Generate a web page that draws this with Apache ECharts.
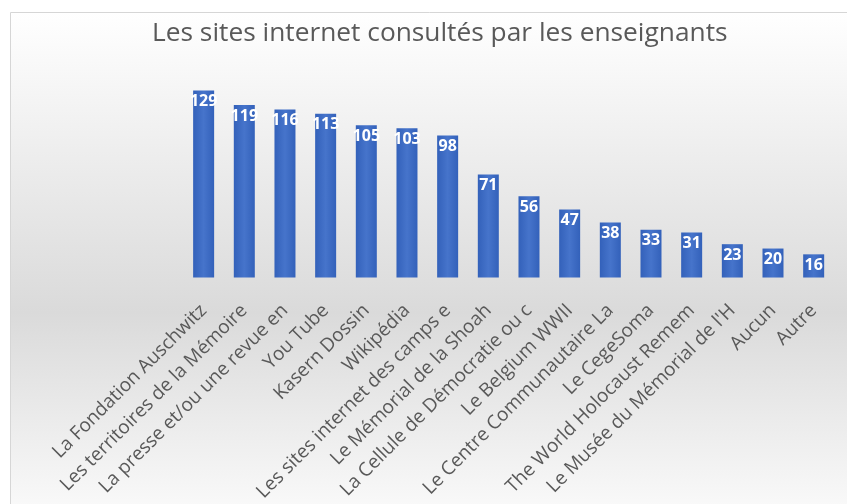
<!DOCTYPE html>
<html>
<head>
<meta charset="utf-8">
<script src="https://cdn.jsdelivr.net/npm/echarts@6/dist/echarts.min.js"></script>
<style>
html,body{margin:0;padding:0;background:#fff;}
#chart{width:847px;height:504px;}
</style>
</head>
<body>
<div id="chart"></div>
<script>
const titleText = "Les sites internet consultés par les enseignants";
const categories = [
  "La Fondation Auschwitz",
  "Les territoires de la Mémoire",
  "La presse et/ou une revue en",
  "You Tube",
  "Kasern Dossin",
  "Wikipédia",
  "Les sites internet des camps e",
  "Le Mémorial de la Shoah",
  "La Cellule de Démocratie ou c",
  "Le Belgium WWII",
  "Le Centre Communautaire La",
  "Le CegeSoma",
  "The World Holocaust Remem",
  "Le Musée du Mémorial de l'H",
  "Aucun",
  "Autre"
];
const values = [129, 119, 116, 113, 105, 103, 98, 71, 56, 47, 38, 33, 31, 23, 20, 16];

const chart = echarts.init(document.getElementById('chart'));
const font = "'Open Sans', sans-serif";
chart.setOption({
  backgroundColor: '#ffffff',
  animation: false,
  graphic: [{
    type: 'rect',
    z: -10,
    silent: true,
    shape: {x: 10.5, y: 12.5, width: 845, height: 500},
    style: {
      fill: new echarts.graphic.LinearGradient(0, 0, 0, 1, [
        {offset: 0, color: '#ffffff'},
        {offset: 0.6, color: '#dadada'},
        {offset: 1, color: '#fafafa'}
      ]),
      stroke: '#d6d6d6',
      lineWidth: 1
    }
  }],
  title: {
    text: titleText,
    left: 147,
    top: 16,
    textStyle: {fontFamily: font, fontSize: 26.3, fontWeight: 'normal', color: '#595959'}
  },
  grid: {left: 183.3, right: 13, top: 74.6, bottom: 224.7, containLabel: false},
  xAxis: {
    type: 'category',
    data: categories,
    axisLine: {show: false},
    axisTick: {show: false},
    axisLabel: {
      rotate: 45,
      interval: 0,
      margin: 30,
      fontFamily: font,
      fontSize: 19,
      color: '#595959'
    }
  },
  yAxis: {
    type: 'value',
    min: 0,
    max: 140,
    show: false,
    splitLine: {show: false}
  },
  series: [{
    type: 'bar',
    data: values,
    barWidth: 21,
    itemStyle: {
      color: new echarts.graphic.LinearGradient(0, 0, 1, 0, [
        {offset: 0, color: '#3361ba'},
        {offset: 0.5, color: '#4674cb'},
        {offset: 1, color: '#3361ba'}
      ])
    },
    label: {
      show: true,
      position: 'insideTop',
      distance: 3,
      fontFamily: font,
      fontSize: 16,
      fontWeight: 'bold',
      color: '#ffffff'
    }
  }]
});
</script>
</body>
</html>
